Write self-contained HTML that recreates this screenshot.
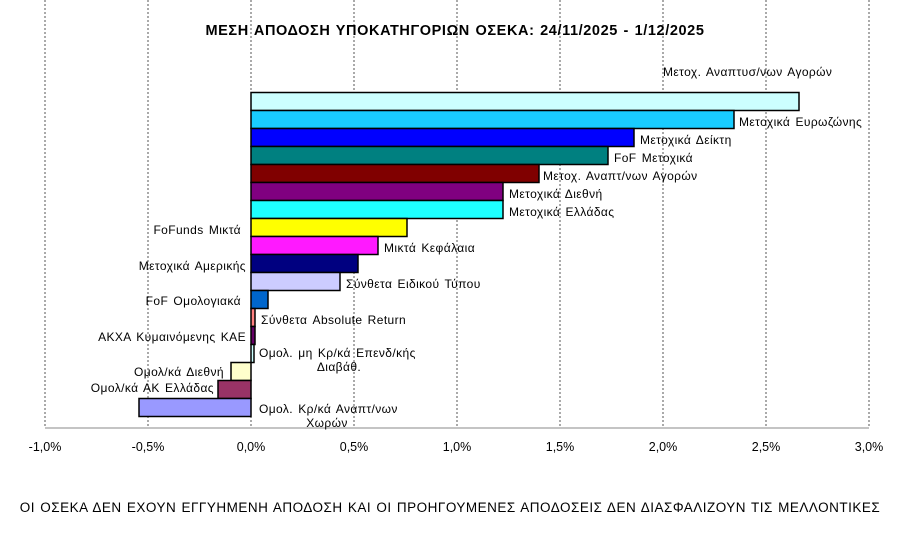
<!DOCTYPE html>
<html><head><meta charset="utf-8"><style>body{margin:0;background:#fff}svg{display:block}text{font-family:"Liberation Sans",sans-serif}</style></head><body>
<svg width="917" height="538" xmlns="http://www.w3.org/2000/svg">
<g stroke="#555" stroke-width="1" stroke-dasharray="2,2">
<line x1="45" y1="0" x2="45" y2="428"/><line x1="148" y1="0" x2="148" y2="428"/>
<line x1="354" y1="0" x2="354" y2="428"/><line x1="457" y1="0" x2="457" y2="428"/>
<line x1="560" y1="0" x2="560" y2="428"/><line x1="663" y1="0" x2="663" y2="428"/>
<line x1="766" y1="0" x2="766" y2="428"/><line x1="869" y1="0" x2="869" y2="428"/>
<line x1="251" y1="0" x2="251" y2="428"/>
</g>
<line x1="45" y1="428" x2="869" y2="428" stroke="#888" stroke-width="1"/>
<g stroke="#000" stroke-width="1.5">
<rect x="251" y="92.5" width="548" height="18" fill="#ccffff"/>
<rect x="251" y="110.5" width="483" height="18" fill="#19ccff"/>
<rect x="251" y="128.5" width="383" height="18" fill="#0000ff"/>
<rect x="251" y="146.5" width="357" height="18" fill="#008080"/>
<rect x="251" y="164.5" width="288" height="18" fill="#800000"/>
<rect x="251" y="182.5" width="252" height="18" fill="#800080"/>
<rect x="251" y="200.5" width="252" height="18" fill="#1effff"/>
<rect x="251" y="218.5" width="156" height="18" fill="#ffff00"/>
<rect x="251" y="236.5" width="127" height="18" fill="#ff19ff"/>
<rect x="251" y="254.5" width="107" height="18" fill="#000080"/>
<rect x="251" y="272.5" width="89" height="18" fill="#ccccff"/>
<rect x="251" y="290.5" width="17" height="18" fill="#0066cc"/>
<rect x="251" y="308.5" width="4" height="18" fill="#ff8080"/>
<rect x="251" y="326.5" width="4" height="18" fill="#660066"/>
<rect x="251" y="344.5" width="3" height="18" fill="#ccffff"/>
<rect x="231" y="362.5" width="20" height="18" fill="#ffffcc"/>
<rect x="218" y="380.5" width="33" height="18" fill="#993366"/>
<rect x="139" y="398.5" width="112" height="18" fill="#9999ff"/>
</g>
<g font-size="12" fill="#000" letter-spacing="0.4" word-spacing="1.5">
<text x="663" y="76">Μετοχ. Αναπτυσ/νων Αγορών</text>
<text x="739" y="126">Μετοχικά Ευρωζώνης</text>
<text x="640" y="144">Μετοχικά Δείκτη</text>
<text x="614" y="162">FoF Μετοχικά</text>
<text x="543" y="180">Μετοχ. Αναπτ/νων Αγορών</text>
<text x="509" y="198">Μετοχικά Διεθνή</text>
<text x="509" y="216">Μετοχικά Ελλάδας</text>
<text x="241" y="234" text-anchor="end">FoFunds Μικτά</text>
<text x="384" y="252">Μικτά Κεφάλαια</text>
<text x="246" y="270" text-anchor="end">Μετοχικά Αμερικής</text>
<text x="346" y="288">Σύνθετα Ειδικού Τύπου</text>
<text x="241" y="305" text-anchor="end">FoF Ομολογιακά</text>
<text x="261" y="324">Σύνθετα Absolute Return</text>
<text x="246" y="341" text-anchor="end">ΑΚΧΑ Κυμαινόμενης ΚΑΕ</text>
<text x="259" y="357">Ομολ. μη Κρ/κά Επενδ/κής</text>
<text x="339" y="371" text-anchor="middle">Διαβάθ.</text>
<text x="224" y="376" text-anchor="end">Ομολ/κά Διεθνή</text>
<text x="214" y="392" text-anchor="end">Ομολ/κά ΑΚ Ελλάδας</text>
<text x="259" y="413">Ομολ. Κρ/κά Αναπτ/νων</text>
<text x="327" y="427" text-anchor="middle">Χωρών</text>
</g>
<g font-size="12.5" text-anchor="middle" fill="#000">
<text x="45" y="451">-1,0%</text><text x="148" y="451">-0,5%</text><text x="251" y="451">0,0%</text>
<text x="354" y="451">0,5%</text><text x="457" y="451">1,0%</text><text x="560" y="451">1,5%</text>
<text x="663" y="451">2,0%</text><text x="766" y="451">2,5%</text><text x="869" y="451">3,0%</text>
</g>
<text x="455" y="35" font-size="14.5" font-weight="bold" text-anchor="middle" letter-spacing="0.6" word-spacing="1">ΜΕΣΗ ΑΠΟΔΟΣΗ ΥΠΟΚΑΤΗΓΟΡΙΩΝ ΟΣΕΚΑ: 24/11/2025 - 1/12/2025</text>
<text x="450" y="512" font-size="13.5" text-anchor="middle" letter-spacing="0.5" word-spacing="1">ΟΙ ΟΣΕΚΑ ΔΕΝ  ΕΧΟΥΝ ΕΓΓΥΗΜΕΝΗ ΑΠΟΔΟΣΗ ΚΑΙ ΟΙ ΠΡΟΗΓΟΥΜΕΝΕΣ ΑΠΟΔΟΣΕΙΣ ΔΕΝ ΔΙΑΣΦΑΛΙΖΟΥΝ ΤΙΣ ΜΕΛΛΟΝΤΙΚΕΣ</text>
</svg>
</body></html>
